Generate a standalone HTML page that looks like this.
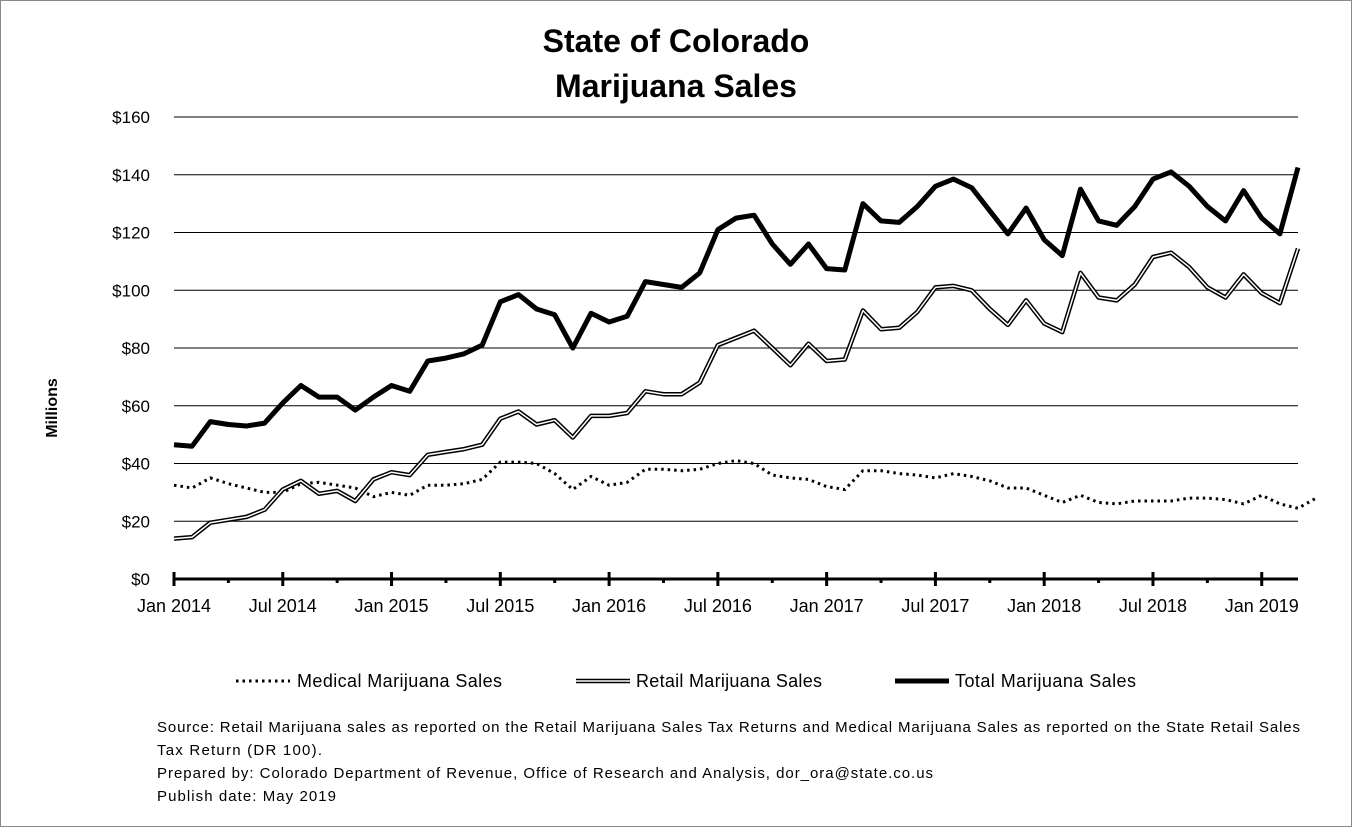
<!DOCTYPE html>
<html><head><style>
body{margin:0;background:#fff;}
svg text{font-family:"Liberation Sans",sans-serif;}
</style></head><body>
<svg id="s" width="1352" height="827" xmlns="http://www.w3.org/2000/svg">
<rect x="0.5" y="0.5" width="1351" height="826" fill="#fff" stroke="#888"/>
<text x="676" y="52" text-anchor="middle" font-size="32" font-weight="bold">State of Colorado</text>
<text x="676" y="97" text-anchor="middle" font-size="32" font-weight="bold">Marijuana Sales</text>
<text transform="translate(57,408) rotate(-90)" text-anchor="middle" font-size="16" font-weight="bold">Millions</text>
<g id="grid"></g>
<g id="series"></g>
<g font-size="18">
<line x1="236" y1="681" x2="290" y2="681" stroke="#000" stroke-width="3" stroke-dasharray="2.5,4"/>
<text x="297" y="687" textLength="205">Medical Marijuana Sales</text>
<line x1="576" y1="681" x2="630" y2="681" stroke="#000" stroke-width="4.5"/>
<line x1="576" y1="681" x2="630" y2="681" stroke="#fff" stroke-width="1.5"/>
<text x="636" y="687" textLength="186">Retail Marijuana Sales</text>
<line x1="895" y1="681" x2="949" y2="681" stroke="#000" stroke-width="5"/>
<text x="955" y="687" textLength="181">Total Marijuana Sales</text>
</g>
<g font-size="15">
<text x="157" y="732" textLength="1143">Source: Retail  Marijuana sales as reported on the Retail Marijuana Sales Tax Returns and Medical Marijuana Sales as reported on the State Retail Sales</text>
<text x="157" y="755" textLength="165">Tax Return (DR 100).</text>
<text x="157" y="778" textLength="776">Prepared by: Colorado Department of Revenue, Office of Research and Analysis, dor_ora@state.co.us</text>
<text x="157" y="801" textLength="179">Publish date: May 2019</text>
</g>
</svg>
<script>
var T=[46.5,46,54.5,53.5,53,54,61,67,63,63,58.5,63,67,65,75.5,76.5,78,81,96,98.5,93.5,91.5,80,92,89,91,103,102,101,106,121,125,126,116,109,116,107.5,107,130,124,123.5,129,136,138.5,135.5,127.5,119.5,128.5,117.5,112,135,124,122.5,129,138.5,141,136,129,124,134.5,125,119.5,142.5];
var M=[32.5,31.5,35,33,31.5,30,30,33,33.5,32.5,31.5,28.5,30,29,32.5,32.5,33,34.5,40.5,40.5,40,36.5,31,35.5,32.5,33.5,38,38,37.5,38,40,41,40,36,35,34.5,32,31,37.5,37.5,36.5,36,35,36.5,35.5,34,31.5,31.5,29,26.5,29,26.5,26,27,27,27,28,28,27.5,26,29,26,24.5,28];
var R=[14,14.5,19.5,20.5,21.5,24,31,34,29.5,30.5,27,34.5,37,36,43,44,45,46.5,55.5,58,53.5,55,49,56.5,56.5,57.5,65,64,64,68,81,83.5,86,80,74,81.5,75.5,76,93,86.5,87,92.5,101,101.5,100,93.5,88,96.5,88.5,85.5,106,97.5,96.5,102,111.5,113,108,101,97.5,105.5,99,95.5,114.5];
var x0=174,dx=(1298-174)/62,y0=579,k=462/160;
function X(i){return x0+i*dx} function Y(v){return y0-v*k}
var g='',ns='';
for(var v=20;v<=160;v+=20)g+='<line x1="174" x2="1298" y1="'+Y(v)+'" y2="'+Y(v)+'" stroke="#000" stroke-width="1"/>';
for(var v=0;v<=160;v+=20)g+='<text x="150" y="'+(Y(v)+6)+'" text-anchor="end" font-size="17">$'+v+'</text>';
var lab=['Jan 2014','Jul 2014','Jan 2015','Jul 2015','Jan 2016','Jul 2016','Jan 2017','Jul 2017','Jan 2018','Jul 2018','Jan 2019'];
for(var i=0;i<=62;i+=3){var maj=i%6==0;g+='<line x1="'+X(i)+'" x2="'+X(i)+'" y1="'+(maj?572:579)+'" y2="'+(maj?586:583)+'" stroke="#000" stroke-width="3"/>';}
for(var j=0;j<lab.length;j++)g+='<text x="'+X(j*6)+'" y="612" text-anchor="middle" font-size="18">'+lab[j]+'</text>';
g+='<line x1="174" x2="1298" y1="579" y2="579" stroke="#000" stroke-width="3"/>';
document.getElementById('grid').innerHTML=g;
function P(a){return a.map(function(v,i){return X(i).toFixed(1)+','+Y(v).toFixed(1)}).join(' ')}
ns+='<polyline points="'+P(M)+'" fill="none" stroke="#000" stroke-width="3" stroke-dasharray="2.5,4"/>';
ns+='<polyline points="'+P(R)+'" fill="none" stroke="#000" stroke-width="4.5" stroke-linejoin="round"/>';
ns+='<polyline points="'+P(R)+'" fill="none" stroke="#fff" stroke-width="1.5" stroke-linejoin="round"/>';
ns+='<polyline points="'+P(T)+'" fill="none" stroke="#000" stroke-width="5" stroke-linejoin="round"/>';
document.getElementById('series').innerHTML=ns;
</script>
</body></html>
